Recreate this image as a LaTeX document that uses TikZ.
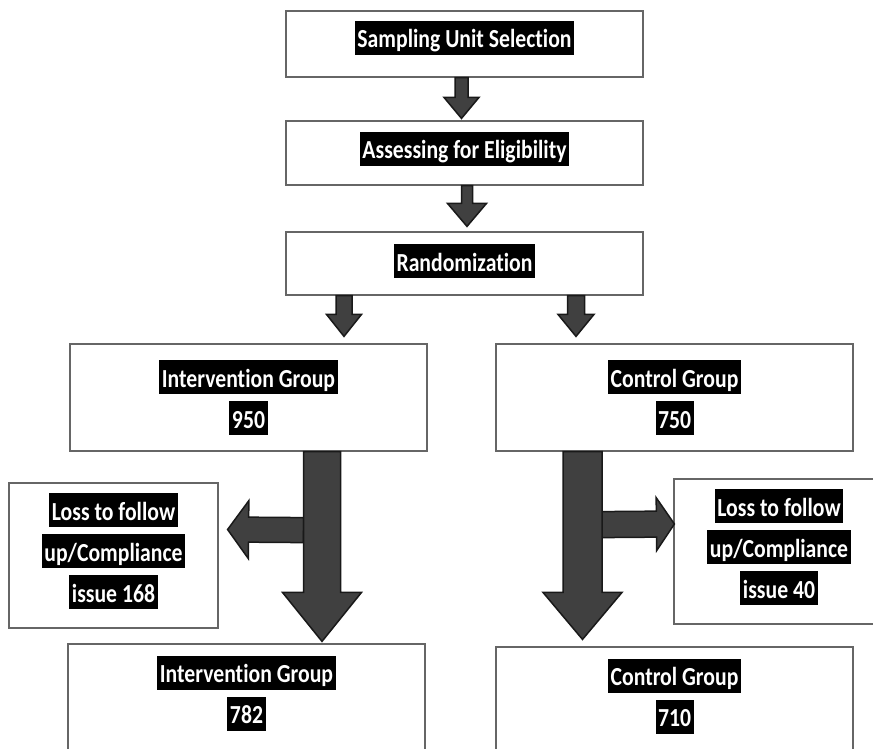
\documentclass[tikz,border=0pt]{standalone}
\usepackage{fontspec}
\setmainfont{Carlito}[FakeStretch=0.835, Ligatures=NoCommon]
\usetikzlibrary{calc}

% white text on a black strip, one per line
\newcommand{\blk}[1]{{\setlength{\fboxsep}{2.5pt}\colorbox{black}{\rule[-4.5pt]{0pt}{29pt}\textcolor{white}{#1}}}}

% block arrow: from, to, shaft half width, head half width, head length
\newcommand{\blockarrow}[5]{%
    \coordinate (ba-h) at ($(#2)!#5!(#1)$);
    \filldraw[fatarrow] ($(#1)!#3!90:(#2)$) -- ($(ba-h)!#3!-90:(#1)$) -- ($(ba-h)!#4!-90:(#1)$) -- (#2)
        -- ($(ba-h)!#4!90:(#1)$) -- ($(ba-h)!#3!90:(#1)$) -- ($(#1)!#3!-90:(#2)$) -- cycle;}

\tikzset{
    box/.style={draw=black!60, line width=1.2pt, align=center, inner sep=0pt,
        font=\fontsize{26}{41}\selectfont\bfseries},
    fatarrow/.style={fill=black!75, draw=black!90, line width=1.5pt, line join=miter}
}

\begin{document}
\begin{tikzpicture}[x=1pt, y=-1pt]
    \useasboundingbox (0,0) rectangle (873,749);
    \clip (0,0) rectangle (873,749);

    \node[box, minimum width=357pt, minimum height=66pt, text depth=19pt] (sel) at (464.5,44) {\blk{Sampling Unit Selection}};
    \node[box, minimum width=357pt, minimum height=64pt, text depth=15pt] (eli) at (464.5,153) {\blk{Assessing for Eligibility}};
    \node[box, minimum width=357pt, minimum height=63pt, text depth=12pt] (rand) at (464.5,263.5) {\blk{Randomization}};

    \node[box, minimum width=357pt, minimum height=107pt] (ig1) at (248.5,397.5) {\blk{Intervention Group}\\\blk{950}};
    \node[box, minimum width=357pt, minimum height=107pt] (cg1) at (674.5,397.5) {\blk{Control Group}\\\blk{750}};

    \node[box, minimum width=209pt, minimum height=145pt, text depth=16pt] (loss1) at (113.5,555.5) {\blk{Loss to follow}\\\blk{up/Compliance}\\\blk{issue 168}};
    \node[box, minimum width=210pt, minimum height=145pt, text depth=16pt] (loss2) at (779,551.5) {\blk{Loss to follow}\\\blk{up/Compliance}\\\blk{issue 40}};

    \node[box, minimum width=357pt, minimum height=107pt, text depth=16pt] (ig2) at (246.5,697.5) {\blk{Intervention Group}\\\blk{782}};
    \node[box, minimum width=357pt, minimum height=107pt, text depth=16pt] (cg2) at (674.5,700.5) {\blk{Control Group}\\\blk{710}};

    % arrow ends
    \coordinate (a1s) at ($(sel.south)+(-3,0)$);
    \coordinate (a1e) at ($(eli.north)+(-3,-2)$);
    \coordinate (a2s) at ($(eli.south)+(2.5,0)$);
    \coordinate (a2e) at ($(rand.north)+(2.5,-5)$);
    \coordinate (a3s) at ($(rand.south)+(-120.5,0)$);
    \coordinate (a3e) at ($(ig1.north)+(95.5,-7)$);
    \coordinate (a4s) at ($(rand.south)+(111.5,0)$);
    \coordinate (a4e) at ($(cg1.north)+(-98.5,-7)$);
    \coordinate (a5s) at ($(ig1.south)+(73.5,0)$);
    \coordinate (a5e) at ($(ig2.north)+(75.5,-2)$);
    \coordinate (a6s) at ($(cg1.south)+(-92,0)$);
    \coordinate (a6e) at ($(cg2.north)+(-92,-7)$);
    \coordinate (a7s) at ($(ig1.south)+(55,78.5)$);
    \coordinate (a7e) at ($(loss1.east)+(9,-26)$);
    \coordinate (a8s) at ($(cg1.south)+(-72.5,73)$);
    \coordinate (a8e) at ($(loss2.west)+(1,-27.5)$);

    \blockarrow{a1s}{a1e}{6.5pt}{17.5pt}{21pt}
    \blockarrow{a2s}{a2e}{5.5pt}{19.5pt}{23pt}
    \blockarrow{a3s}{a3e}{8pt}{17.5pt}{22pt}
    \blockarrow{a4s}{a4e}{8.5pt}{18pt}{22pt}
    \blockarrow{a7s}{a7e}{12.5pt}{29pt}{21pt}
    \blockarrow{a8s}{a8e}{13pt}{26.5pt}{18pt}
    \blockarrow{a5s}{a5e}{18.5pt}{39.5pt}{49pt}
    \blockarrow{a6s}{a6e}{19.5pt}{39.5pt}{47pt}
\end{tikzpicture}
\end{document}
